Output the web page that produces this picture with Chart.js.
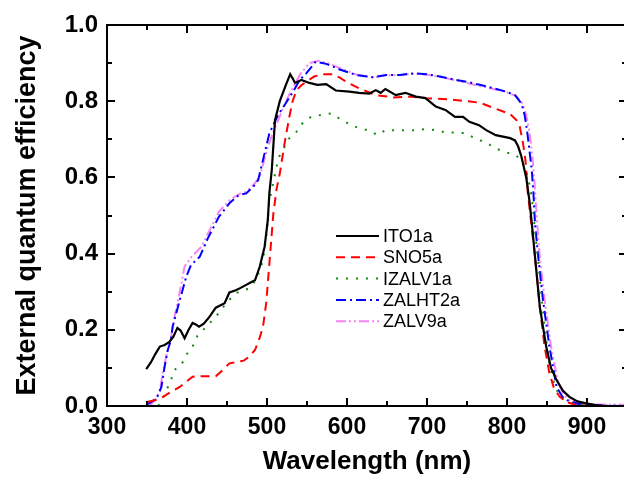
<!DOCTYPE html>
<html>
<head>
<meta charset="utf-8">
<script src="https://cdn.jsdelivr.net/npm/chart.js"></script>
<style>
  html, body { margin: 0; padding: 0; background: #fff; overflow: hidden; }
</style>
</head>
<body>
<canvas id="Chart" width="640" height="479"></canvas>
<script>
// wavelength (nm) / external quantum efficiency
const itoWl = [349, 355, 360, 366, 372, 378, 383, 388, 392, 397, 402, 407, 411, 415, 421, 428, 436, 447, 453, 461,
  467, 474, 480, 485, 491, 497, 501, 503, 506, 510, 516, 524, 529, 532, 535, 539, 543, 553, 563, 574,
  586, 603, 615, 628, 636, 642, 648, 661, 673, 686, 698, 711, 723, 735, 745, 753, 765, 774, 786, 804,
  810, 814, 818, 824, 828, 831, 835, 841, 849, 855, 862, 870, 878, 888, 899, 913, 924];
const itoEqe = [0.097, 0.115, 0.135, 0.156, 0.16, 0.168, 0.182, 0.205, 0.198, 0.178, 0.2, 0.218, 0.214, 0.208, 0.216, 0.234, 0.258, 0.27, 0.298, 0.304,
  0.31, 0.318, 0.325, 0.33, 0.366, 0.418, 0.488, 0.56, 0.62, 0.75, 0.8, 0.845, 0.871, 0.86, 0.848, 0.852, 0.856, 0.848, 0.843, 0.845,
  0.828, 0.825, 0.822, 0.82, 0.829, 0.822, 0.832, 0.816, 0.822, 0.812, 0.808, 0.786, 0.777, 0.759, 0.759, 0.746, 0.737, 0.724, 0.711, 0.703,
  0.697, 0.681, 0.655, 0.6, 0.54, 0.48, 0.392, 0.26, 0.156, 0.1, 0.068, 0.04, 0.024, 0.012, 0.007, 0.002, 0];

const snoWl = [351, 360, 370, 380, 391, 400, 407, 420, 436, 445, 453, 471, 478, 485, 491, 495, 499, 503, 508, 512,
  516, 522, 528, 532, 537, 543, 549, 559, 570, 582, 591, 599, 615, 636, 658, 678, 699, 725, 746, 766,
  785, 804, 812, 816, 820, 823, 826, 828, 835, 841, 847, 853, 859, 866, 875, 886, 905, 950];
const snoEqe = [0.011, 0.015, 0.024, 0.037, 0.05, 0.065, 0.077, 0.078, 0.078, 0.095, 0.112, 0.119, 0.13, 0.147, 0.18, 0.208, 0.27, 0.375, 0.506, 0.57,
  0.61, 0.69, 0.76, 0.8, 0.829, 0.842, 0.851, 0.865, 0.871, 0.871, 0.862, 0.851, 0.834, 0.816, 0.81, 0.812, 0.808, 0.805, 0.801, 0.796,
  0.781, 0.766, 0.75, 0.733, 0.69, 0.646, 0.56, 0.523, 0.392, 0.26, 0.156, 0.086, 0.045, 0.024, 0.01, 0.003, 0, 0];

const izaWl = [364, 370, 374, 380, 384, 393, 399, 407, 413, 424, 436, 449, 461, 478, 486, 491, 495, 499, 503, 506,
  514, 522, 528, 537, 545, 555, 568, 580, 593, 603, 615, 628, 638, 648, 661, 673, 686, 698, 711, 724,
  736, 748, 758, 768, 779, 787, 797, 810, 816, 822, 826, 831, 835, 839, 843, 848, 853, 860, 868, 883,
  903, 923];
const izaEqe = [0, 0.02, 0.04, 0.068, 0.094, 0.108, 0.134, 0.156, 0.184, 0.208, 0.234, 0.27, 0.296, 0.309, 0.33, 0.357, 0.383, 0.444, 0.54, 0.567,
  0.65, 0.68, 0.703, 0.72, 0.744, 0.759, 0.764, 0.768, 0.751, 0.74, 0.729, 0.723, 0.711, 0.724, 0.724, 0.724, 0.724, 0.727, 0.724, 0.718,
  0.718, 0.716, 0.705, 0.696, 0.685, 0.675, 0.667, 0.659, 0.65, 0.628, 0.602, 0.549, 0.46, 0.38, 0.29, 0.19, 0.11, 0.05, 0.02, 0.005,
  0.001, 0];

const zhtWl = [349, 355, 362, 368, 372, 376, 380, 382, 391, 399, 405, 416, 426, 440, 453, 465, 474, 483, 489, 495,
  503, 514, 526, 534, 541, 549, 561, 574, 590, 611, 632, 649, 666, 683, 699, 716, 733, 750, 766, 783,
  799, 810, 818, 822, 825, 828, 831, 833, 835, 839, 845, 853, 862, 869, 874, 888, 899, 923, 950];
const zhtEqe = [0.003, 0.01, 0.02, 0.05, 0.103, 0.147, 0.173, 0.208, 0.278, 0.339, 0.37, 0.392, 0.44, 0.497, 0.532, 0.554, 0.558, 0.576, 0.593, 0.646,
  0.716, 0.764, 0.803, 0.83, 0.856, 0.873, 0.904, 0.898, 0.884, 0.869, 0.863, 0.869, 0.869, 0.873, 0.871, 0.865, 0.857, 0.851, 0.843, 0.834,
  0.825, 0.816, 0.794, 0.764, 0.724, 0.672, 0.619, 0.56, 0.48, 0.392, 0.278, 0.156, 0.05, 0.025, 0.016, 0.006, 0.003, 0.001, 0];

const zv9Wl = [353, 360, 366, 370, 375, 380, 385, 391, 397, 405, 418, 428, 440, 453, 465, 474, 483, 491, 501, 508,
  516, 526, 541, 553, 564, 576, 591, 611, 632, 649, 666, 683, 699, 716, 733, 750, 766, 783, 799, 811,
  819, 824, 828, 831, 834, 837, 841, 847, 855, 864, 871, 878, 893, 913, 950];
const zv9Eqe = [0, 0.015, 0.04, 0.09, 0.14, 0.18, 0.24, 0.3, 0.366, 0.39, 0.418, 0.46, 0.51, 0.54, 0.556, 0.562, 0.58, 0.602, 0.68, 0.72,
  0.76, 0.81, 0.869, 0.9, 0.906, 0.9, 0.887, 0.87, 0.862, 0.868, 0.868, 0.872, 0.87, 0.864, 0.856, 0.848, 0.84, 0.832, 0.824, 0.814,
  0.795, 0.764, 0.72, 0.67, 0.6, 0.5, 0.39, 0.28, 0.156, 0.06, 0.03, 0.015, 0.007, 0.004, 0.003];

const seriesNames = ['ITO1a', 'SNO5a', 'IZALV1a', 'ZALHT2a', 'ZALV9a'];
const xTickLabels = [300, 400, 500, 600, 700, 800, 900];
const yTickLabels = [0.0, 0.2, 0.4, 0.6, 0.8, 1.0];

function pts(wl, v) {
  return wl.map((w, i) => ({ x: w, y: v[i] }));
}

// box round the plot with inward ticks on all four sides
const frame = {
  id: 'frame',
  afterDatasetsDraw(chart) {
    const c = chart.ctx;
    const a = chart.chartArea;
    const xs = chart.scales.x, ys = chart.scales.y;
    c.save();
    c.strokeStyle = '#000';
    c.lineWidth = 2;
    c.strokeRect(a.left, a.top, a.right - a.left, a.bottom - a.top);
    c.beginPath();
    for (let v = 300; v <= 950; v += 50) {
      const px = Math.round(xs.getPixelForValue(v));
      const len = v % 100 === 0 ? 8 : 5;
      c.moveTo(px, a.bottom); c.lineTo(px, a.bottom - len);
      c.moveTo(px, a.top); c.lineTo(px, a.top + len);
    }
    for (let k = 0; k <= 10; k++) {
      const py = Math.round(ys.getPixelForValue(k / 10));
      const len = k % 2 === 0 ? 8 : 5;
      c.moveTo(a.left, py); c.lineTo(a.left + len, py);
      c.moveTo(a.right, py); c.lineTo(a.right - len, py);
    }
    c.stroke();
    c.restore();
  }
};

// legend sitting inside the plot, no box
const insideLegend = {
  id: 'insideLegend',
  afterDraw(chart) {
    const c = chart.ctx;
    c.save();
    c.font = '18px "Liberation Sans", Arial, sans-serif';
    c.textBaseline = 'middle';
    c.fillStyle = '#000';
    chart.data.datasets.forEach((ds, i) => {
      const y = 236 + i * 21.3;
      c.strokeStyle = ds.borderColor;
      c.lineWidth = ds.borderWidth;
      c.setLineDash(ds.borderDash || []);
      c.beginPath();
      c.moveTo(336, y); c.lineTo(379, y);
      c.stroke();
      c.fillText(ds.label, 383, y + 1);
    });
    c.restore();
  }
};

const ctx = document.getElementById('Chart');
const myChart = new Chart(ctx, {
  type: 'line',
  data: {
    datasets: [
      { label: seriesNames[0], data: pts(itoWl, itoEqe), borderColor: '#000000', borderWidth: 2.2, borderDash: [] },
      { label: seriesNames[1], data: pts(snoWl, snoEqe), borderColor: '#ff0000', borderWidth: 2, borderDash: [9, 6] },
      { label: seriesNames[2], data: pts(izaWl, izaEqe), borderColor: '#108a10', borderWidth: 2, borderDash: [2, 8] },
      { label: seriesNames[3], data: pts(zhtWl, zhtEqe), borderColor: '#0000ff', borderWidth: 2, borderDash: [10, 4, 2, 4] },
      { label: seriesNames[4], data: pts(zv9Wl, zv9Eqe), borderColor: '#f584f5', borderWidth: 2, borderDash: [10, 3, 2, 3, 2, 3] }
    ]
  },
  options: {
    responsive: false,
    animation: false,
    events: [],
    layout: { padding: { top: 25, right: 13, left: 0, bottom: 0 } },
    elements: { point: { radius: 0 }, line: { tension: 0, fill: false } },
    plugins: { legend: { display: false }, tooltip: { enabled: false } },
    scales: {
      x: {
        type: 'linear',
        min: 300,
        max: 950,
        grid: { display: false, drawTicks: false },
        border: { display: false },
        afterBuildTicks: (s) => { s.ticks = xTickLabels.map(v => ({ value: v })); },
        afterFit: (s) => { s.height = 73; },
        ticks: {
          padding: 8,
          color: '#000',
          font: { family: '"Liberation Sans", Arial, sans-serif', size: 23, weight: 'bold' }
        },
        title: {
          display: true,
          text: 'Wavelength (nm)',
          color: '#000',
          padding: { top: 0, bottom: 2 },
          font: { family: '"Liberation Sans", Arial, sans-serif', size: 26, weight: 'bold' }
        }
      },
      y: {
        min: 0,
        max: 1,
        grid: { display: false, drawTicks: false },
        border: { display: false },
        afterBuildTicks: (s) => { s.ticks = yTickLabels.map(v => ({ value: v })); },
        afterFit: (s) => { s.width = 107; },
        ticks: {
          padding: 9,
          color: '#000',
          callback: (v) => Number(v).toFixed(1),
          font: { family: '"Liberation Sans", Arial, sans-serif', size: 24, weight: 'bold' }
        },
        title: {
          display: true,
          text: 'External quantum efficiency',
          color: '#000',
          padding: { top: 11, bottom: 0 },
          font: { family: '"Liberation Sans", Arial, sans-serif', size: 27, weight: 'bold' }
        }
      }
    }
  },
  plugins: [frame, insideLegend]
});
</script>
</body>
</html>
